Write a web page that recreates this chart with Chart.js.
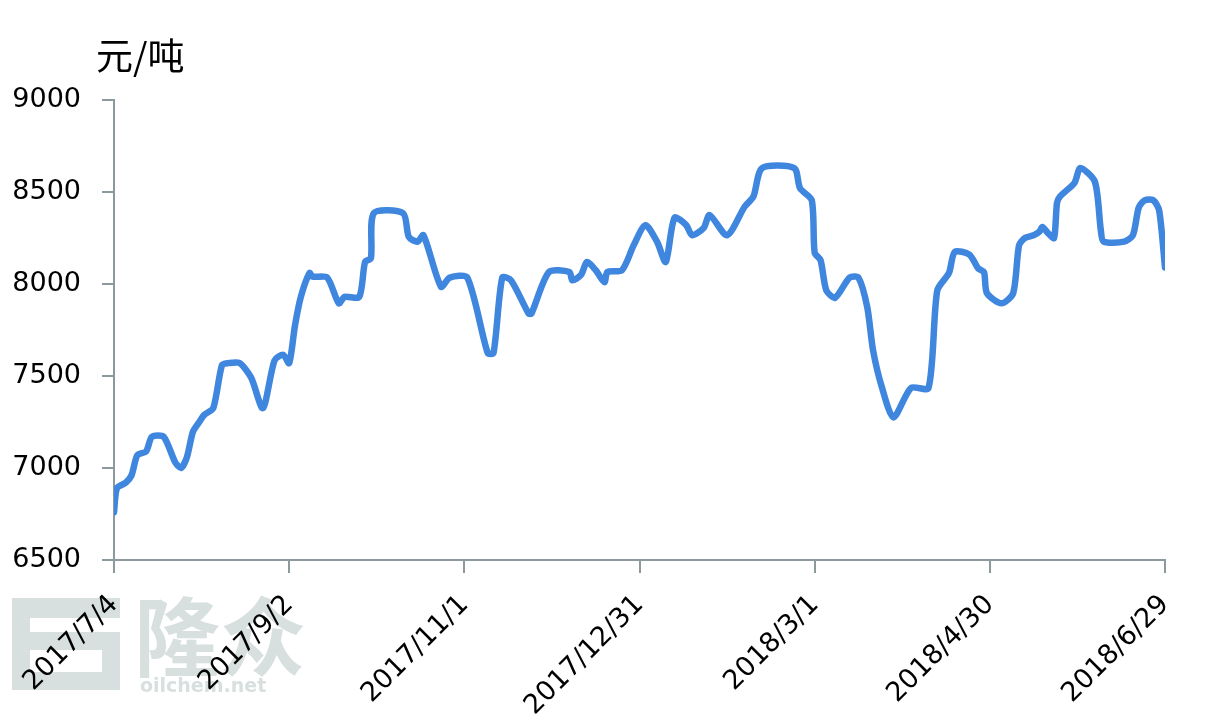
<!DOCTYPE html>
<html>
<head>
<meta charset="utf-8">
<script src="https://cdn.jsdelivr.net/npm/chart.js@4/dist/chart.umd.min.js"></script>
<style>
    html, body { margin: 0; padding: 0; background: #fff; }
    #wrap { width: 1213px; height: 727px; position: relative; }
</style>
</head>
<body>
<div id="wrap"><canvas id="myChart"></canvas></div>
<script>
// Daten: Tage ab 2017/7/4 und Preis (元/吨)
var days = [0, 1, 4, 6, 8, 11, 13, 17, 21, 23, 25, 27, 29, 31, 34, 37, 39, 43, 47, 51,
    55, 58, 60, 62, 64, 67, 68, 73, 77, 79, 84, 86, 88, 89, 99, 101, 104, 106, 112, 115,
    121, 128, 130, 133, 136, 142, 143, 149, 156, 157, 160, 162, 165, 168, 169, 174, 178, 182, 186, 189,
    192, 196, 198, 202, 204, 210, 216, 219, 222, 233, 235, 239, 240, 242, 244, 247, 252, 255, 258, 260,
    263, 267, 273, 279, 282, 286, 288, 293, 296, 298, 299, 304, 308, 310, 312, 315, 317, 318, 320, 322,
    323, 324, 329, 331, 336, 338, 339, 346, 349, 351, 353, 356, 358, 360];
var prices = [6760, 6890, 6920, 6960, 7070, 7090, 7170, 7170, 7030, 7000, 7060, 7195, 7245, 7290, 7325, 7560, 7570, 7570, 7490, 7325,
    7585, 7615, 7570, 7775, 7930, 8060, 8040, 8035, 7895, 7930, 7930, 8120, 8140, 8385, 8385, 8255, 8230, 8265, 7985, 8035,
    8035, 7625, 7625, 8035, 8020, 7840, 7840, 8065, 8065, 8020, 8050, 8120, 8075, 8010, 8065, 8075, 8210, 8320, 8230, 8120,
    8360, 8320, 8265, 8305, 8375, 8265, 8420, 8475, 8630, 8630, 8520, 8455, 8170, 8130, 7965, 7925, 8035, 8035, 7875, 7640,
    7440, 7275, 7435, 7435, 7965, 8060, 8175, 8160, 8085, 8065, 7950, 7895, 7950, 8210, 8250, 8265, 8285, 8310, 8275, 8250,
    8440, 8475, 8550, 8630, 8555, 8295, 8230, 8230, 8265, 8415, 8455, 8455, 8400, 8090];
var tickLabels = ['2017/7/4', '2017/9/2', '2017/11/1', '2017/12/31', '2018/3/1', '2018/4/30', '2018/6/29'];
var unitLabel = '元/吨';

var axisGrey = '#8c9a9e';

// Beschriftung oben und Wasserzeichen
var extras = {
    id: 'extras',
    beforeDraw: function (chart) {
        var ctx = chart.ctx;
        ctx.save();
        ctx.fillStyle = '#d8dfdf';
        ctx.fillRect(12, 598, 108, 92);
        ctx.fillStyle = '#fff';
        ctx.fillRect(30, 618, 90, 14);
        ctx.fillRect(30, 650, 72, 22);
        ctx.fillStyle = '#d8dfdf';
        ctx.font = 'bold 86px "Noto Sans CJK SC"';
        ctx.textBaseline = 'alphabetic';
        ctx.fillText('隆众', 134, 670);
        ctx.font = 'bold 19px "DejaVu Sans"';
        ctx.fillText('oilchem.net', 140, 692);
        ctx.restore();
    },
    afterDraw: function (chart) {
        var ctx = chart.ctx;
        ctx.save();
        ctx.fillStyle = '#000';
        ctx.font = '37px "Noto Sans CJK SC"';
        ctx.textBaseline = 'middle';
        ctx.fillText(unitLabel, 96, 56);
        ctx.restore();
    }
};

var points = days.map(function (d, i) {
    return { x: d, y: prices[i] };
});

new Chart(document.getElementById('myChart'), {
    type: 'line',
    data: {
        datasets: [{
            data: points,
            borderColor: '#3f86df',
            borderWidth: 6.5,
            pointRadius: 0,
            tension: 0.25,
            borderJoinStyle: 'round',
            borderCapStyle: 'round'
        }]
    },
    options: {
        responsive: true,
        maintainAspectRatio: false,
        animation: false,
        layout: { padding: { top: 100, right: 48, left: 0, bottom: 0 } },
        plugins: { legend: { display: false }, tooltip: { enabled: false } },
        scales: {
            x: {
                type: 'linear',
                min: 0,
                max: 360,
                afterFit: function (scale) { scale.height = 167; },
                afterBuildTicks: function (scale) {
                    scale.ticks = tickLabels.map(function (t, i) { return { value: i * 60 }; });
                },
                ticks: {
                    autoSkip: false,
                    maxRotation: 45,
                    minRotation: 45,
                    padding: 16,
                    color: '#000',
                    font: { family: 'DejaVu Sans', size: 27 },
                    callback: function (v) { return tickLabels[Math.round(v / 60)]; }
                },
                grid: { drawOnChartArea: false, drawTicks: true, tickLength: 13, color: axisGrey, lineWidth: 2 },
                border: { color: axisGrey, width: 2 }
            },
            y: {
                min: 6500,
                max: 9000,
                afterFit: function (scale) { scale.width = 114; },
                ticks: {
                    stepSize: 500,
                    padding: 21,
                    color: '#000',
                    font: { family: 'DejaVu Sans', size: 27 },
                    callback: function (v) { return String(v); }
                },
                grid: { drawOnChartArea: false, drawTicks: true, tickLength: 12, color: axisGrey, lineWidth: 2 },
                border: { color: axisGrey, width: 2 }
            }
        }
    },
    plugins: [extras]
});
</script>
</body>
</html>
